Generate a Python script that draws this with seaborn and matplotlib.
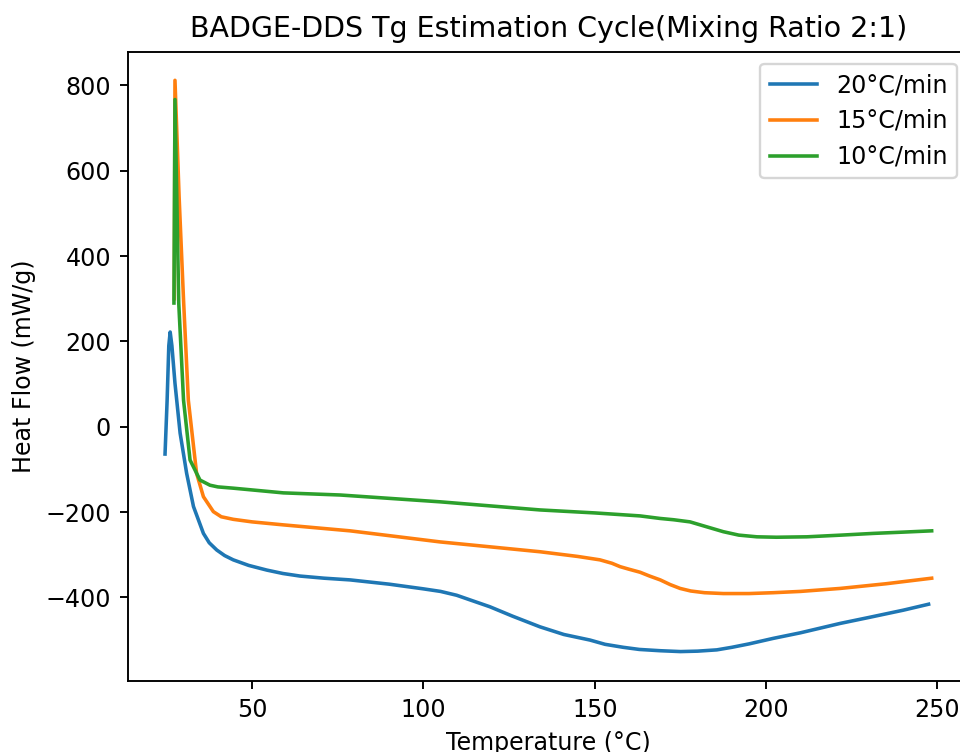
import matplotlib
matplotlib.use("Agg")
import matplotlib.pyplot as plt
import seaborn as sns
import pandas as pd

# ---- data ----
rates = ["20°C/min", "15°C/min", "10°C/min"]

temp_20 = [24.6, 25.2, 25.7, 26.1, 26.6, 27.5, 29.0, 30.9, 32.9, 35.8, 37.5, 39.7, 42.0, 44.5,
           49.0, 54.3, 59.0, 64.0, 71.0, 78.6, 90.0, 100.0, 105.0, 109.7, 114.0, 119.4, 126.0,
           134.0, 141.0, 148.6, 153.0, 158.3, 163.0, 169.1, 175.0, 180.0, 185.6, 190.0, 195.0,
           202.1, 210.0, 221.6, 230.0, 240.0, 247.4]
heat_20 = [-64, 60, 190, 222, 190, 102, -15, -109, -187, -250, -272, -289, -302, -312,
           -325, -336, -344, -350, -355, -359, -369, -380, -386, -395, -407, -422, -444,
           -469, -487, -500, -510, -517, -522, -525, -527, -526, -523, -517, -509,
           -496, -483, -461, -447, -430, -416]

temp_15 = [27.3, 27.5, 28.7, 30.0, 31.4, 33.8, 35.8, 38.7, 41.0, 44.5, 50.0, 59.1, 78.6,
           104.9, 134.0, 145.0, 151.5, 155.0, 157.4, 160.0, 163.2, 166.0, 169.1, 172.0,
           174.9, 178.0, 182.0, 187.5, 195.0, 202.1, 210.0, 221.6, 235.0, 248.3]
heat_15 = [300, 812, 540, 297, 62, -109, -164, -199, -211, -217, -223, -230, -244,
           -270, -293, -304, -312, -320, -328, -334, -341, -350, -359, -370,
           -379, -385, -389, -391, -391, -389, -386, -379, -368, -355]

temp_10 = [27.2, 27.5, 28.6, 30.0, 31.9, 34.8, 37.7, 40.0, 44.5, 59.1, 75.7, 104.9, 134.0,
           150.0, 163.2, 169.1, 173.0, 177.8, 182.0, 187.5, 192.0, 197.3, 203.0, 211.9,
           222.0, 231.3, 240.0, 248.3]
heat_10 = [290, 767, 290, 62, -78, -125, -137, -141, -144, -155, -160, -176, -195,
           -202, -209, -215, -218, -223, -233, -246, -254, -258, -259, -258,
           -254, -250, -247, -244]

frames = []
for r, t, h in zip(rates, [temp_20, temp_15, temp_10], [heat_20, heat_15, heat_10]):
    frames.append(pd.DataFrame({"Temperature": t, "HeatFlow": h, "Rate": r}))
df = pd.concat(frames, ignore_index=True)

DPI = 171
fig = plt.figure(figsize=(960 / DPI, 752 / DPI), dpi=DPI)
ax = fig.add_axes([0.1330, 0.0944, 0.8764, 0.8368])

palette = sns.color_palette("tab10", 3)
sns.lineplot(data=df, x="Temperature", y="HeatFlow", hue="Rate", hue_order=rates,
             palette=palette, sort=False, estimator=None, ax=ax, linewidth=1.5)

ax.set_xlim(13.7, 259.2)
ax.set_ylim(-596, 879)
ax.set_xticks([50, 100, 150, 200, 250])
ax.set_yticks([-400, -200, 0, 200, 400, 600, 800])
ax.set_xlabel("Temperature (°C)")
ax.set_ylabel("Heat Flow (mW/g)")
ax.set_title("BADGE-DDS Tg Estimation Cycle(Mixing Ratio 2:1)")
ax.spines["right"].set_visible(False)

old = ax.get_legend()
handles = old.legend_handles
labels = [t.get_text() for t in old.get_texts()]
old.remove()
ax.legend(handles, labels, loc="upper right")

fig.savefig("out.png", dpi=DPI)
